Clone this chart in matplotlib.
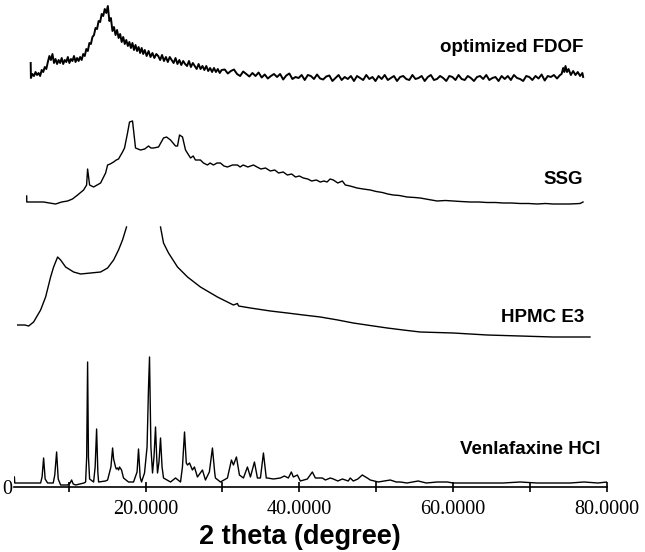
import numpy as np
import matplotlib.pyplot as plt

# XRD patterns (2 theta in degrees, intensity in a.u.)
venla_2theta = [2.95, 3.0, 3.12, 5.45, 6.36, 6.55, 6.75, 6.95, 7.27, 8.0, 8.2, 8.44, 8.65, 8.96, 9.87,
                10.2, 10.39, 10.6, 10.91, 12.0, 12.21, 12.35, 12.47, 12.58, 12.73, 13.25, 13.45, 13.64,
                13.8, 13.9, 14.8, 15.07, 15.5, 15.72, 15.85, 16.1, 16.2, 16.36, 16.5, 16.62, 16.88,
                17.14, 17.79, 18.44, 18.9, 19.09, 19.3, 19.48, 19.87, 20.2, 20.39, 20.52, 20.7, 20.91,
                21.1, 21.3, 21.45, 21.56, 21.75, 21.95, 22.15, 22.34, 23.25, 23.9, 24.55, 24.8, 25.07,
                25.3, 25.46, 25.72, 26.1, 26.36, 26.75, 27.4, 27.79, 28.3, 28.7, 29.0, 29.09, 29.74,
                30.65, 31.17, 31.43, 31.82, 32.21, 32.73, 33.25, 33.64, 34.16, 34.55, 34.94, 35.33,
                35.7, 35.85, 36.62, 37.53, 38.05, 38.57, 38.96, 39.22, 39.74, 40.13, 41.04, 41.69,
                42.08, 42.99, 43.38, 44.03, 44.42, 45.0, 45.6, 46.36, 46.62, 47.01, 47.6, 48.18, 48.83,
                49.22, 50.26, 51.0, 51.82, 52.6, 53.12, 54.0, 55.45, 56.5, 57.92, 59.22, 60.0, 62.21,
                64.42, 66.49, 68.7, 70.91, 72.99, 75.19, 77.0, 78.83, 80.0]
venla_int = [10, 4, 4, 4, 4, 10, 29, 8, 4, 4, 12, 35, 8, 2, 2,
             4, 7, 3, 2, 4, 5, 30, 125, 30, 8, 5, 20, 58,
             15, 5, 6, 7, 20, 39, 28, 20, 18, 19, 17, 20, 17,
             9, 5, 5, 15, 38, 10, 5, 14, 40, 100, 130, 40, 14,
             30, 60, 30, 14, 25, 49, 20, 9, 5, 9, 5, 20, 55,
             24, 22, 24, 17, 20, 10, 17, 7, 15, 39, 14, 9, 5,
             9, 27, 22, 30, 12, 9, 20, 10, 25, 9, 9, 34,
             9, 9, 8, 9, 11, 9, 15, 10, 12, 6, 8, 15,
             9, 9, 7, 9, 8, 6, 8, 6, 9, 6, 8, 12, 9,
             7, 5, 6, 7, 5, 5, 4, 6, 4, 5, 5, 4, 4,
             4, 4, 5, 4, 4, 4, 5, 4, 5]

hpmc_2theta = [3.38, 4.3, 4.81, 5.45, 6.36, 7.01, 7.66, 8.05, 8.57, 8.96, 9.61, 10.65, 11.56, 12.86,
               14.16, 15.07, 15.85, 16.49, 17.01, 17.53, np.nan, 21.95, 22.34, 22.99, 24.16, 25.46,
               27.14, 29.35, 31.43, 31.95, 32.1, 33.64, 36.23, 38.44, 40.52, 42.73, 45.0, 47.01,
               49.2, 51.43, 53.5, 55.71, 60.0, 64.42, 68.7, 72.99, 77.79]
hpmc_int = [22, 22, 21, 25, 37, 50, 70, 80, 90, 87, 80, 75, 73, 74,
            75, 79, 87, 97, 107, 120, np.nan, 120, 104, 94, 80, 70,
            60, 50, 42, 43.5, 41, 39, 36, 34, 32, 30, 27, 24,
            21.5, 19, 17, 15, 14, 12, 11, 10, 10]

ssg_2theta = [4.55, 4.56, 5.45, 6.75, 7.5, 8.31, 9.1, 9.87, 10.5, 11.17, 11.95, 12.34, 12.47, 12.73,
              13.25, 14.16, 14.81, 15.07, 15.4, 15.85, 16.2, 16.49, 17.01, 17.27, 17.66, 17.92,
              18.31, 18.44, 18.7, 19.35, 19.9, 20.39, 20.7, 21.04, 21.69, 22.34, 22.73, 23.25,
              23.9, 24.16, 24.42, 24.81, 25.2, 25.85, 26.2, 26.49, 27.14, 27.53, 28.05, 28.4,
              28.83, 29.3, 29.74, 30.2, 30.65, 31.3, 31.95, 32.3, 32.7, 33.3, 34.03, 34.5, 35.0,
              35.6, 36.23, 36.8, 37.3, 37.9, 38.44, 39.0, 39.5, 40.0, 40.52, 41.1, 41.6, 42.2,
              42.73, 43.2, 43.6, 44.0, 44.42, 45.0, 45.59, 45.98, 46.6, 47.5, 48.3, 49.22, 50.0,
              50.8, 51.5, 52.21, 53.0, 54.0, 55.0, 55.71, 56.8, 57.92, 59.0, 60.0, 61.0, 62.21,
              63.3, 64.4, 65.5, 66.49, 67.6, 68.7, 69.8, 70.91, 72.0, 73.0, 74.1, 75.19, 76.5,
              76.88]
ssg_int = [16, 10, 10, 10, 9, 8, 10, 11, 13, 17, 22, 27, 43, 27,
           25, 29, 39, 47, 48, 50, 52, 53, 60, 64, 79, 90,
           91, 82, 64, 62, 63, 66, 64, 64, 65, 74, 75, 72,
           66, 66, 77, 75, 62, 54, 56, 52, 52, 49, 47, 49,
           47, 49, 49, 46, 45, 47, 47, 45, 47, 45, 47, 45, 43,
           44, 41, 42, 39, 40, 37, 38, 35, 36, 34, 33, 31, 32,
           30, 31, 30, 33, 32, 29, 31, 27, 26, 24, 23, 22, 20.5,
           19.5, 18, 17, 16.5, 15, 14.5, 14, 12.5, 11, 11.5, 11, 10.5, 10,
           10, 9.5, 9.5, 9, 9, 8.5, 8.5, 8, 8.5, 8, 8, 8, 8.5,
           10]

fdof_2theta = [5.07, 5.1, 5.3, 5.5, 5.7, 5.9, 6.1, 6.3, 6.5, 6.7, 6.9, 7.1, 7.3, 7.5, 7.7, 7.9,
               8.1, 8.3, 8.5, 8.7, 8.9, 9.1, 9.3, 9.5, 9.7, 9.9, 10.1, 10.3, 10.5, 10.7, 10.9,
               11.1, 11.3, 11.5, 11.7, 11.9, 12.1, 12.3, 12.5, 12.7, 12.9, 13.1, 13.3, 13.5, 13.7,
               13.9, 14.1, 14.3, 14.5, 14.7, 14.9, 15.1, 15.3, 15.5, 15.7, 15.9, 16.1, 16.3, 16.5,
               16.7, 16.9, 17.1, 17.3, 17.5, 17.7, 17.9, 18.1, 18.3, 18.5, 18.7, 18.9, 19.1, 19.3,
               19.5, 19.7, 19.9, 20.15, 20.4, 20.65, 20.9, 21.15, 21.4, 21.65, 21.9, 22.15, 22.4,
               22.65, 22.9, 23.15, 23.4, 23.65, 23.9, 24.15, 24.4, 24.65, 24.9, 25.15, 25.4, 25.65,
               25.9, 26.15, 26.4, 26.65, 26.9, 27.15, 27.4, 27.65, 27.9, 28.15, 28.4, 28.65, 28.9,
               29.15, 29.4, 29.65, 29.9, 30.3, 30.7, 31.1, 31.5, 31.9, 32.3, 32.7, 33.1, 33.5,
               33.9, 34.3, 34.7, 35.1, 35.5, 35.9, 36.3, 36.7, 37.1, 37.5, 37.9, 38.3, 38.7, 39.1,
               39.5, 39.9, 40.3, 40.7, 41.1, 41.5, 41.9, 42.3, 42.7, 43.1, 43.5, 43.9, 44.3, 44.7,
               45.1, 45.5, 45.9, 46.3, 46.7, 47.1, 47.5, 47.9, 48.3, 48.7, 49.1, 49.5, 49.9, 50.3,
               50.7, 51.1, 51.5, 51.9, 52.3, 52.7, 53.1, 53.5, 53.9, 54.3, 54.7, 55.1, 55.5, 55.9,
               56.3, 56.7, 57.1, 57.5, 57.9, 58.3, 58.7, 59.1, 59.5, 59.9, 60.3, 60.7, 61.1, 61.5,
               61.9, 62.3, 62.7, 63.1, 63.5, 63.9, 64.3, 64.7, 65.1, 65.5, 65.9, 66.3, 66.7, 67.1,
               67.5, 67.9, 68.3, 68.7, 69.1, 69.5, 69.9, 70.3, 70.7, 71.1, 71.5, 71.9, 72.3, 72.7,
               73.1, 73.5, 73.9, 74.1, 74.3, 74.45, 74.6, 74.8, 75.0, 75.3, 75.6, 75.9, 76.2, 76.5,
               76.8, 76.9]
fdof_int = [24, 9, 13, 11, 15, 12, 14, 11, 17, 15, 20, 18, 25, 31, 27, 33,
            24, 28, 23, 27, 24, 29, 23, 27, 25, 30, 24, 28, 26, 31, 25,
            29, 26, 30, 27, 33, 31, 38, 36, 44, 43, 50, 52, 59, 58,
            66, 65, 73, 71, 78, 74, 81, 66, 69, 56, 60, 52, 57, 49,
            53, 45, 50, 43, 47, 41, 45, 39, 44, 37, 42, 36, 40, 34,
            39, 33, 37, 31, 36, 30, 34, 29, 33, 31, 27, 32, 26,
            30, 25, 30, 27, 24, 29, 23, 27, 22, 26, 23, 21, 26,
            20, 24, 21, 18, 23, 18, 21, 17, 21, 16, 19, 15, 19,
            15, 18, 14, 17, 17.5, 13.5, 16, 17.5, 13, 11, 15.5, 13, 10.5,
            14, 11, 14.5, 9.5, 12.5, 8.5, 11, 13, 10, 13, 7.5, 11.5, 13.5, 8,
            10, 9, 12, 7, 12, 11, 8, 12.5, 8.5, 7.5, 10.5, 11.5, 6, 9,
            12, 7, 10, 8, 11, 6, 11, 9, 7, 12, 8, 10, 6, 11,
            8, 12, 7, 9, 11, 6, 10, 11, 8, 7, 12, 8, 9, 11,
            6, 10, 12, 7, 8, 11, 9, 6, 11, 10, 7, 12, 8, 7,
            11, 9, 6, 10, 11, 8, 12, 7, 9, 10, 6, 11, 8, 11,
            7, 12, 9, 8, 6, 11, 10, 7, 11, 8.5, 12.5, 6.5, 11, 10,
            12, 8.5, 12, 13, 19, 15, 21, 15, 18, 12, 16, 12, 15, 11,
            14, 10]

patterns = [
    ('Venlafaxine HCl', venla_2theta, venla_int, 0),
    ('HPMC E3', hpmc_2theta, hpmc_int, 140),
    ('SSG', ssg_2theta, ssg_int, 275),
    ('optimized FDOF', fdof_2theta, fdof_int, 400),
]
label_pos = {'Venlafaxine HCl': (79.1, 37), 'HPMC E3': (77.1, 169),
             'SSG': (76.9, 307), 'optimized FDOF': (76.9, 439)}

fig = plt.figure(figsize=(6.45, 5.52), dpi=100)
ax = fig.add_axes([14 / 645, 65 / 552, (607 - 14) / 645, 487 / 552])

for name, x, y, off in patterns:
    lw = 1.4 if name == 'optimized FDOF' else 1.0
    ax.plot(x, np.array(y) + off, color='black', lw=lw)
    tx, ty = label_pos[name]
    ax.text(tx, ty, name, ha='right', va='center', fontsize=13.5,
            fontweight='bold', family='Liberation Sans')

ax.set_xlim(2.9, 80)
ax.set_ylim(0, 487)
for s in ['top', 'right', 'left']:
    ax.spines[s].set_visible(False)
ax.spines['bottom'].set_linewidth(1.2)

ax.set_xticks([20, 40, 60, 80])
ax.set_xticklabels(['20.0000', '40.0000', '60.0000', '80.0000'],
                   family='Liberation Serif', fontsize=14.5)
ax.set_xticks([10, 30, 50, 70], minor=True)
ax.tick_params(axis='x', which='both', direction='inout', length=7, width=1.2, pad=6)
ax.set_yticks([0])
ax.set_yticklabels(['0'], family='Liberation Serif', fontsize=14.5)
ax.tick_params(axis='y', length=0, pad=1)

fig.text(300 / 645, 1 - 537 / 552, '2 theta (degree)', ha='center', va='center',
         fontsize=19.5, fontweight='bold', family='Liberation Sans')

fig.savefig('out.png', dpi=100)
